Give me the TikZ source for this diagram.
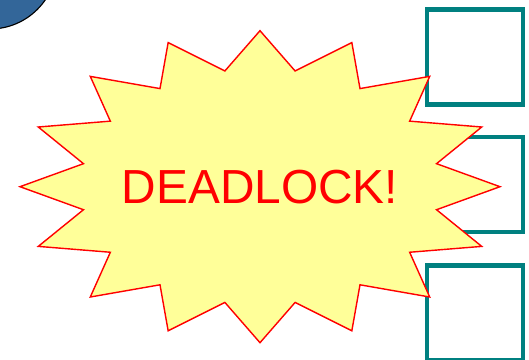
\documentclass[tikz,border=0pt]{standalone}
\usepackage{fontspec}
\setmainfont{Liberation Sans}
\usepackage{tikz}

\definecolor{burstfill}{HTML}{FFFF99}
\definecolor{procblue}{HTML}{336699}
\definecolor{resteal}{HTML}{008080}

\begin{document}
\begin{tikzpicture}[
    x=0.025cm, y=-0.025cm,
    resource/.style={rectangle, draw=resteal, line width=3pt, fill=white,
        minimum width=2.4cm, minimum height=2.375cm, inner sep=0pt},
    burst/.style={draw=red, fill=burstfill, line width=1pt, line join=miter},
    alarm/.style={text=red, font=\fontsize{34}{40}\selectfont}
]
\useasboundingbox (0,0) rectangle (529,360);

% Processo (angolo in alto)
\coordinate (proc) at (-10,-38);
\draw[fill=procblue, draw=black, line width=0.8pt] (proc) circle[radius=67];

% Risorse
\node[resource] (res1) at (475,57) {};
\node[resource] (res2) at (475,184.5) {};
\node[resource] (res3) at (475,313) {};

% Esplosione
\coordinate (boom) at (260,186.7);
\begin{scope}[shift={(boom)}]
  \draw[burst] (0:240 and 156)
    \foreach \i in {0,...,15} {
      -- ({22.5*\i+11.25}:180 and 118) -- ({22.5*\i+22.5}:240 and 156)
    } -- cycle;
\end{scope}

% Scritta
\node[alarm] (msg) at (boom) {DEADLOCK!};

\end{tikzpicture}
\end{document}
